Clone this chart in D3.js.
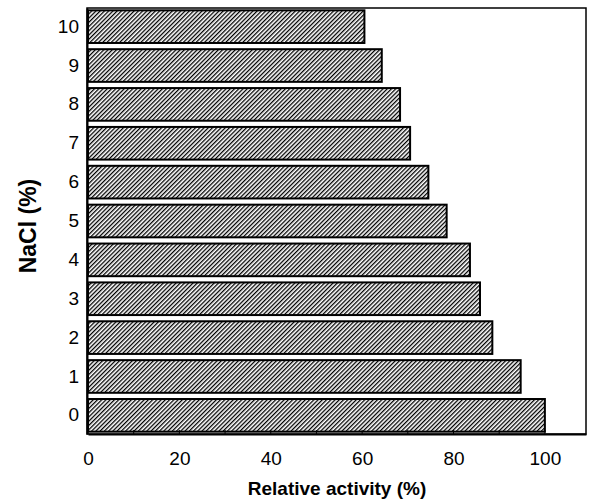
<!DOCTYPE html>
<html>
<head>
<meta charset="utf-8">
<script src="https://cdn.jsdelivr.net/npm/d3@7"></script>
<style>
  body { margin: 0; background: #fff; }
  text { font-family: "Liberation Sans", Arial, sans-serif; }
</style>
</head>
<body>
<div id="chart"></div>
<script>
// NaCl concentration (%) and relative activity (%)
const nacl = ["0", "1", "2", "3", "4", "5", "6", "7", "8", "9", "10"]
const activity = [100, 94.7, 88.5, 85.8, 83.6, 78.5, 74.5, 70.5, 68.3, 64.3, 60.5]
const xTicks = [0, 20, 40, 60, 80, 100]

const width = 590
const height = 502
const margin = { top: 8, right: 4, bottom: 68, left: 87 }

const svg = d3.select("#chart").append("svg")
    .attr("width", width)
    .attr("height", height)

// hatch pattern for bars
const defs = svg.append("defs")
const pat = defs.append("pattern")
    .attr("id", "hatch")
    .attr("patternUnits", "userSpaceOnUse")
    .attr("width", 3)
    .attr("height", 3)
    .attr("patternTransform", "rotate(45)")
pat.append("rect").attr("width", 3).attr("height", 3).attr("fill", "#fff")
pat.append("line")
    .attr("x1", 0).attr("y1", 0).attr("x2", 0).attr("y2", 3)
    .attr("stroke", "#000").attr("stroke-width", 2.6)

const x = d3.scaleLinear()
    .domain([0, 109])
    .range([margin.left + 1, width - margin.right])

const y = d3.scaleBand()
    .domain(nacl)
    .range([height - margin.bottom, margin.top])
    .paddingInner(0.16)
    .paddingOuter(0.06)

// bars
svg.append("g")
    .selectAll("rect")
    .data(nacl)
    .join("rect")
    .attr("x", x(0))
    .attr("y", d => y(d))
    .attr("width", (d, i) => x(activity[i]) - x(0))
    .attr("height", y.bandwidth())
    .attr("fill", "url(#hatch)")
    .attr("stroke", "#000")
    .attr("stroke-width", 2)

// frame
svg.append("rect")
    .attr("x", margin.left)
    .attr("y", margin.top)
    .attr("width", width - margin.right - margin.left)
    .attr("height", height - margin.bottom - margin.top)
    .attr("fill", "none")
    .attr("stroke", "#000")
    .attr("stroke-width", 1.5)

// x axis
const xAxis = svg.append("g")
    .attr("transform", `translate(0,${height - margin.bottom})`)
    .call(d3.axisBottom(x).tickValues(xTicks).tickSize(0).tickPadding(18))
xAxis.select(".domain").attr("stroke-width", 2)
xAxis.selectAll("text")
    .attr("font-size", 19)
    .attr("fill", "#000")

// minor inward ticks
svg.append("g")
    .selectAll("line")
    .data(d3.range(0, 110, 10))
    .join("line")
    .attr("x1", d => x(d)).attr("x2", d => x(d))
    .attr("y1", height - margin.bottom).attr("y2", height - margin.bottom - 4)
    .attr("stroke", "#000")

// y axis
const yAxis = svg.append("g")
    .attr("transform", `translate(${margin.left},0)`)
    .call(d3.axisLeft(y).tickSize(0).tickPadding(8))
yAxis.select(".domain").attr("stroke-width", 2)
yAxis.selectAll("text")
    .attr("font-size", 19)
    .attr("fill", "#000")

// axis titles
svg.append("text")
    .attr("x", 337)
    .attr("y", 495)
    .attr("text-anchor", "middle")
    .attr("font-size", 19)
    .attr("font-weight", "bold")
    .text("Relative activity (%)")

svg.append("text")
    .attr("transform", `translate(36,226) rotate(-90)`)
    .attr("text-anchor", "middle")
    .attr("font-size", 23)
    .attr("font-weight", "bold")
    .text("NaCl (%)")
</script>
</body>
</html>
